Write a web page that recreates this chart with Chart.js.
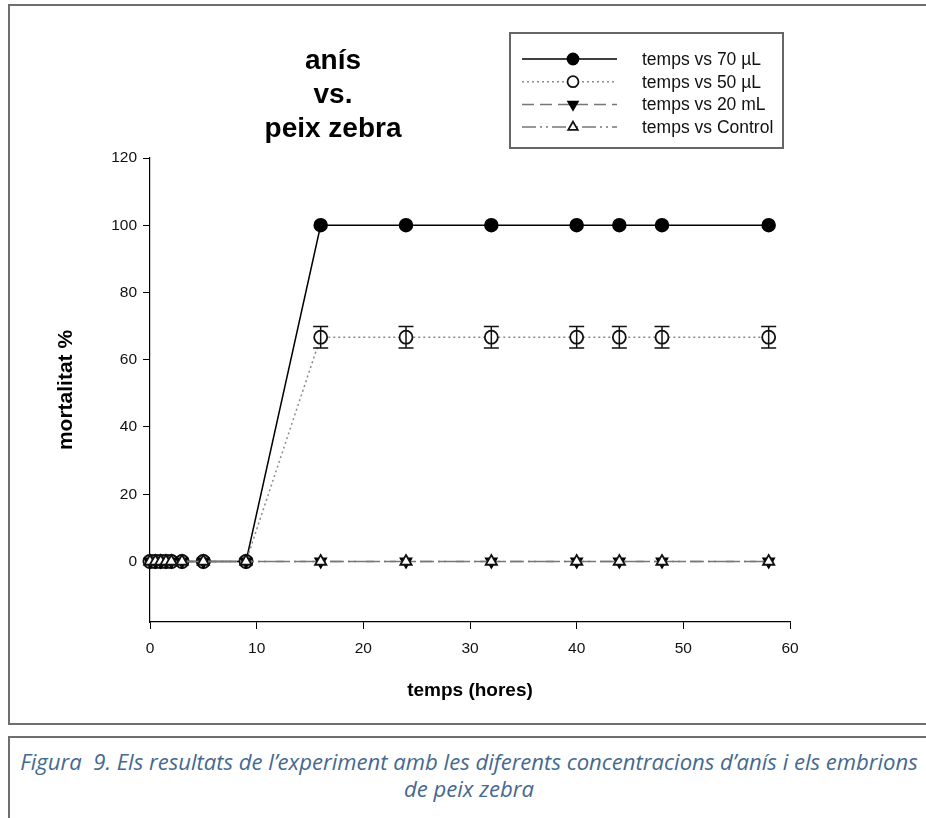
<!DOCTYPE html>
<html>
<head>
<meta charset="utf-8">
<script src="https://cdn.jsdelivr.net/npm/chart.js@4"></script>
<style>
  body { margin: 0; background: #fff; width: 926px; height: 818px; overflow: hidden; position: relative; }
  #frame { position: absolute; left: 8px; top: 4px; width: 930px; height: 717px; border-left: 2px solid #6e6e6e; border-top: 2px solid #6e6e6e; border-bottom: 2px solid #6e6e6e; }
  #wrap { position: absolute; left: 0; top: 0; width: 926px; height: 722px; }
  #caption { position: absolute; left: 8px; top: 736px; width: 930px; height: 90px; border-left: 2px solid #6e6e6e; border-top: 2px solid #6e6e6e; }
  #caption p { margin: 0; position: absolute; left: 0; width: 918px; text-align: center; font-family: "Open Sans", sans-serif; font-style: italic; font-size: 16px; line-height: 20px; color: #44698f; white-space: nowrap; }
</style>
</head>
<body>
<div id="frame"></div>
<div id="wrap"><canvas id="grafic"></canvas></div>
<div id="caption">
  <p id="cap1" style="top:13px">Figura&nbsp; 9. Els resultats de l’experiment amb les diferents concentracions d’anís i els embrions</p>
  <p id="cap2" style="top:40px">de peix zebra</p>
</div>
<script>
// dades llegides del grafic
const hores = [0, 0.5, 1, 1.5, 2, 3, 5, 9, 16, 24, 32, 40, 44, 48, 58];
const mort70 = [0, 0, 0, 0, 0, 0, 0, 0, 100, 100, 100, 100, 100, 100, 100];
const mort50 = [0, 0, 0, 0, 0, 0, 0, 0, 66.7, 66.7, 66.7, 66.7, 66.7, 66.7, 66.7];
const err50 = [0, 0, 0, 0, 0, 0, 0, 0, 3.2, 3.2, 3.2, 3.2, 3.2, 3.2, 3.2];
const mort20 = [0, 0, 0, 0, 0, 0, 0, 0, 0, 0, 0, 0, 0, 0, 0];
const mortControl = [0, 0, 0, 0, 0, 0, 0, 0, 0, 0, 0, 0, 0, 0, 0];
const etiquetes = ['temps vs 70 µL', 'temps vs 50 µL', 'temps vs 20 mL', 'temps vs Control'];
const titol = ['anís', 'vs.', 'peix zebra'];

function punts(vals){
    return hores.map((h, i) => ({x: h, y: vals[i]}))
}

// ajusta el peu de figura a l'amplada
const c = document.createElement('canvas').getContext('2d');
c.font = 'italic 16px "Open Sans"';
const w = c.measureText(document.getElementById('cap1').textContent).width;
const mida = (16 * 898 / w).toFixed(2) + 'px';
document.getElementById('cap1').style.fontSize = mida;
document.getElementById('cap2').style.fontSize = mida;

// barres d'error
const errorBars = {
    id: 'errorBars',
    afterDatasetsDraw(chart){
        const ctx = chart.ctx;
        const meta = chart.getDatasetMeta(1);
        const ys = chart.scales.y;
        ctx.save();
        ctx.strokeStyle = '#111';
        ctx.lineWidth = 1.5;
        meta.data.forEach((p, i) => {
            const e = err50[i];
            if (!e) return;
            const top = ys.getPixelForValue(mort50[i] + e);
            const bot = ys.getPixelForValue(mort50[i] - e);
            ctx.beginPath();
            ctx.moveTo(p.x, top); ctx.lineTo(p.x, bot);
            ctx.moveTo(p.x - 7.5, top); ctx.lineTo(p.x + 7.5, top);
            ctx.moveTo(p.x - 7.5, bot); ctx.lineTo(p.x + 7.5, bot);
            ctx.stroke();
        });
        ctx.restore();
    }
};

// titol i llegenda
const textos = {
    id: 'textos',
    afterDraw(chart){
        const ctx = chart.ctx;
        ctx.save();
        ctx.fillStyle = '#000';
        ctx.font = 'bold 28px "Liberation Sans", Arial';
        ctx.textAlign = 'center';
        ctx.textBaseline = 'middle';
        titol.forEach((t, i) => ctx.fillText(t, 333, 61 + i * 34));

        ctx.strokeStyle = '#666';
        ctx.lineWidth = 2;
        ctx.strokeRect(510, 33, 273, 115);
        chart.data.datasets.forEach((ds, i) => {
            const y = 59 + i * 22.7;
            ctx.save();
            ctx.strokeStyle = ds.borderColor;
            ctx.lineWidth = ds.borderWidth;
            ctx.setLineDash(ds.borderDash || []);
            ctx.beginPath();
            ctx.moveTo(522, y); ctx.lineTo(617, y);
            ctx.stroke();
            ctx.restore();

            ctx.save();
            ctx.fillStyle = ds.pointBackgroundColor;
            ctx.strokeStyle = ds.pointBorderColor;
            ctx.lineWidth = 1.8;
            Chart.helpers.drawPoint(ctx, {
                pointStyle: ds.pointStyle, rotation: ds.pointRotation || 0,
                radius: 5.5, borderWidth: 1.8
            }, 573, y);
            ctx.restore();

            ctx.fillStyle = '#111';
            ctx.font = '17.5px "Liberation Sans", Arial';
            ctx.textAlign = 'left';
            ctx.fillText(etiquetes[i], 642, y + 1);
        });
        ctx.restore();
    }
};

const ctx = document.getElementById('grafic').getContext('2d');
const data = {
    datasets: [{
        label: etiquetes[0],
        data: punts(mort70),
        order: 4,
        borderColor: '#000', borderWidth: 1.5,
        pointStyle: 'circle', pointRadius: 6.5,
        pointBackgroundColor: '#000', pointBorderColor: '#000', pointBorderWidth: 1.5
    }, {
        label: etiquetes[1],
        data: punts(mort50),
        order: 3,
        borderColor: '#8a8a8a', borderWidth: 1.5, borderDash: [2, 3],
        pointStyle: 'circle', pointRadius: 6.5,
        pointBackgroundColor: '#fff', pointBorderColor: '#111', pointBorderWidth: 1.8
    }, {
        label: etiquetes[2],
        data: punts(mort20),
        order: 2,
        borderColor: '#777', borderWidth: 1.5, borderDash: [12, 6],
        pointStyle: 'triangle', pointRotation: 180, pointRadius: 6.5,
        pointBackgroundColor: '#000', pointBorderColor: '#000', pointBorderWidth: 1.5
    }, {
        label: etiquetes[3],
        data: punts(mortControl),
        order: 1,
        borderColor: '#777', borderWidth: 1.5, borderDash: [14, 4, 2, 4, 2, 4],
        pointStyle: 'triangle', pointRadius: 6.5,
        pointBackgroundColor: '#fff', pointBorderColor: '#111', pointBorderWidth: 1.8
    }]
};

const config = {
    type: 'line',
    data: data,
    options: {
        responsive: true,
        maintainAspectRatio: false,
        animation: false,
        clip: false,
        layout: { padding: { left: 0, right: 136, top: 158, bottom: 0 } },
        plugins: { legend: { display: false }, title: { display: false }, tooltip: { enabled: false } },
        scales: {
            x: {
                type: 'linear', min: 0, max: 60,
                afterFit: s => { s.height = 100 },
                ticks: { stepSize: 10, color: '#111', padding: 10, font: { size: 15.5, family: '"Liberation Sans", Arial' } },
                grid: { drawOnChartArea: false, drawTicks: true, tickLength: 7, color: '#000' },
                border: { color: '#000', width: 1.2 },
                title: { display: true, text: 'temps (hores)', color: '#000', padding: { top: 0, bottom: 20 },
                    font: { size: 19, weight: 'bold', family: '"Liberation Sans", Arial' } }
            },
            y: {
                min: -18, max: 120,
                afterFit: s => { s.width = 150 },
                afterBuildTicks: s => { s.ticks = s.ticks.filter(t => t.value >= 0) },
                ticks: { stepSize: 20, color: '#111', padding: 6, font: { size: 15.5, family: '"Liberation Sans", Arial' } },
                grid: { drawOnChartArea: false, drawTicks: true, tickLength: 7, color: '#000' },
                border: { color: '#000', width: 1.2 },
                title: { display: true, text: 'mortalitat %', color: '#000', padding: { top: 54, bottom: 0 },
                    font: { size: 21, weight: 'bold', family: '"Liberation Sans", Arial' } }
            }
        }
    },
    plugins: [errorBars, textos]
};

const grafic = new Chart(ctx, config);
</script>
</body>
</html>
